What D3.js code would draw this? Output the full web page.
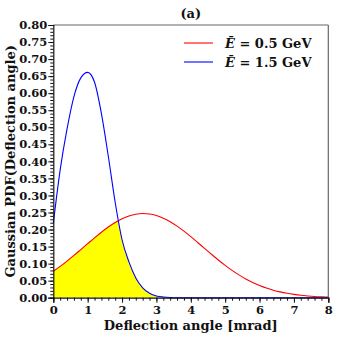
<!DOCTYPE html>
<html><head><meta charset="utf-8">
<script src="https://cdn.jsdelivr.net/npm/d3@7"></script>
<style>
html,body{margin:0;padding:0;background:#fff;}
svg{display:block;}
text{font-family:"DejaVu Serif",serif;font-weight:bold;fill:#111;}
</style></head>
<body>
<svg id="c" width="338" height="338"></svg>
<script>
// deflection angle grid (mrad)
const angles = [0,0.2,0.4,0.6,0.8,1.0,1.2,1.4,1.6,1.8,2.0,2.2,2.4,2.6,2.8,3.0,3.2,3.4,3.6,3.8,4.0,4.2,4.4,4.6,4.8,5.0,5.2,5.4,5.6,5.8,6.0,6.2,6.4,6.6,6.8,7.0,7.2,7.4,7.6,7.8,8.0];
// E = 0.5 GeV
const pdfLow = [0.0775,0.0919,0.1075,0.124,0.1412,0.1585,0.1757,0.1921,0.2072,0.2205,0.2315,0.2397,0.245,0.247,0.2456,0.241,0.2334,0.2229,0.21,0.1952,0.179,0.162,0.1446,0.1274,0.1107,0.0949,0.0802,0.0669,0.0551,0.0448,0.0359,0.0283,0.0221,0.017,0.0129,0.0097,0.0071,0.0052,0.0037,0.0027,0.0019];
// E = 1.5 GeV
const pdfHigh = [0.218,0.375,0.495,0.59,0.645,0.661,0.632,0.54,0.415,0.28,0.17,0.105,0.058,0.029,0.013,0.005,0.002,0.0005,0,0,0,0,0,0,0,0,0,0,0,0,0,0,0,0,0,0,0,0,0,0,0];
const seriesLabels = ["0.5 GeV","1.5 GeV"];
const seriesColors = ["#ff0000","#0000ff"];
const xTicks = [0,1,2,3,4,5,6,7,8];
const yTicks = [0,0.05,0.10,0.15,0.20,0.25,0.30,0.35,0.40,0.45,0.50,0.55,0.60,0.65,0.70,0.75,0.80];

const L=53.3, R=328.3, T=25, B=297.7;
const svg = d3.select("#c");
const x = d3.scaleLinear().domain([0,8]).range([L,R]);
const y = d3.scaleLinear().domain([0,0.8]).range([B,T]);

const dLow = angles.map((a,i)=>[a,pdfLow[i]]);
const dHigh = angles.map((a,i)=>[a,pdfHigh[i]]);

const area = d3.area().x(d=>x(d[0])).y0(y(0)).y1(d=>y(d[1])).curve(d3.curveMonotoneX);
const line = d3.line().x(d=>x(d[0])).y(d=>y(d[1])).curve(d3.curveMonotoneX);

svg.append("clipPath").attr("id","under").append("path").attr("d",area(dHigh));
svg.append("path").attr("d",area(dLow)).attr("fill","#ffff00").attr("clip-path","url(#under)");

svg.append("path").attr("d",line(dLow)).attr("fill","none").attr("stroke",seriesColors[0]).attr("stroke-width",1.1);
svg.append("path").attr("d",line(dHigh)).attr("fill","none").attr("stroke",seriesColors[1]).attr("stroke-width",1.1);

// frame top/right
svg.append("line").attr("x1",L).attr("x2",R).attr("y1",T).attr("y2",T).attr("stroke","#666").attr("stroke-width",1.2);
svg.append("line").attr("x1",R).attr("x2",R).attr("y1",T).attr("y2",B).attr("stroke","#666").attr("stroke-width",1.2);

// minor ticks
const yMinor = d3.range(0,81).map(i=>i/100);
const xMinor = d3.range(0,41).map(i=>i/5);
svg.append("g").attr("transform",`translate(${L},0)`)
  .call(d3.axisLeft(y).tickValues(yMinor).tickSize(3).tickFormat(""))
  .call(g=>g.select(".domain").remove()).selectAll("line").attr("stroke","#111");
svg.append("g").attr("transform",`translate(0,${B})`)
  .call(d3.axisBottom(x).tickValues(xMinor).tickSize(3).tickFormat(""))
  .call(g=>g.select(".domain").remove()).selectAll("line").attr("stroke","#111");

const ya = svg.append("g").attr("transform",`translate(${L},0)`)
  .call(d3.axisLeft(y).tickValues(yTicks).tickSize(5).tickPadding(1).tickFormat(d3.format(".2f")));
const xa = svg.append("g").attr("transform",`translate(0,${B})`)
  .call(d3.axisBottom(x).tickValues(xTicks).tickSize(5).tickPadding(3).tickFormat(d3.format("d")));
[ya,xa].forEach(g=>{
  g.selectAll("text").attr("font-family","DejaVu Serif").attr("font-weight","bold").attr("font-size",11.5).attr("fill","#111");
  g.selectAll("line").attr("stroke","#111");
  g.select(".domain").attr("stroke","#111").attr("stroke-width",1.2);
});

// titles
svg.append("text").attr("x",(L+R)/2).attr("y",18).attr("text-anchor","middle").attr("font-size",13).text("(a)");
svg.append("text").attr("x",(L+R)/2).attr("y",330).attr("text-anchor","middle").attr("font-size",13).text("Deflection angle [mrad]");
svg.append("text").attr("transform",`translate(15,${(T+B)/2}) rotate(-90)`).attr("text-anchor","middle").attr("font-size",13).text("Gaussian PDF(Deflection angle)");

// legend
const leg = svg.append("g");
seriesLabels.forEach((lab,i)=>{
  const ly = 43 + i*19;
  leg.append("line").attr("x1",184).attr("x2",213).attr("y1",ly).attr("y2",ly).attr("stroke",seriesColors[i]).attr("stroke-width",1.1);
  const t = leg.append("text").attr("x",225).attr("y",ly+4.5).attr("font-size",13);
  t.append("tspan").attr("font-style","italic").text("Ē");
  t.append("tspan").text(" = " + lab);
});
</script>
</body></html>
